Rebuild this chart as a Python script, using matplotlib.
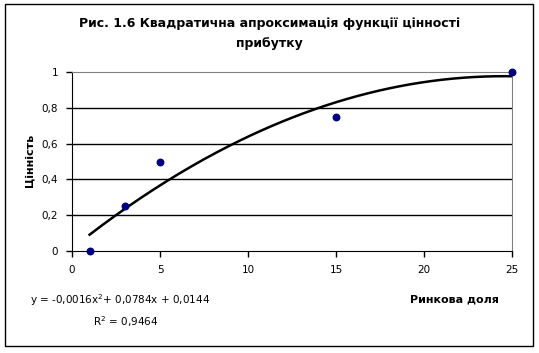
import numpy as np
import matplotlib
matplotlib.use("Agg")
import matplotlib.pyplot as plt
from matplotlib.patches import Rectangle

plt.rcParams['font.family'] = ['DejaVu Sans']

# data
share = [1, 3, 5, 15, 25]
value = [0, 0.25, 0.5, 0.75, 1]
x_ticks = [0, 5, 10, 15, 20, 25]
y_ticks = [0, 0.2, 0.4, 0.6, 0.8, 1]
y_labels = ['0', '0,2', '0,4', '0,6', '0,8', '1']

W, H = 539, 353
fig = plt.figure(figsize=(W / 100, H / 100), dpi=100)
fig.patch.set_facecolor('white')

# outer chart border
fig.patches.append(Rectangle((5 / W, 1 - 346 / H), 528 / W, 342 / H,
                             transform=fig.transFigure, fill=False,
                             edgecolor='black', linewidth=1))

ax = fig.add_axes([72 / W, 1 - 251 / H, 440 / W, 179 / H])
ax.set_xlim(0, 25)
ax.set_ylim(0, 1)

for y in y_ticks[1:-1]:
    ax.axhline(y, color='black', linewidth=1, zorder=1)

# quadratic trend line fitted to the points
coef = np.polyfit(share, value, 2)
xs = np.linspace(share[0], share[-1], 200)
ax.plot(xs, np.polyval(coef, xs), color='black', linewidth=1.8, zorder=2)

ax.scatter(share, value, s=22, color='#000080', zorder=3, clip_on=False)

ax.set_xticks(x_ticks)
ax.set_xticklabels([str(t) for t in x_ticks])
ax.set_yticks(y_ticks)
ax.set_yticklabels(y_labels)
ax.tick_params(axis='both', labelsize=7.5, length=4, width=1, direction='out', pad=6)
ax.spines['left'].set_color('black')
ax.spines['bottom'].set_color('black')
ax.spines['top'].set_color('#808080')
ax.spines['right'].set_color('#808080')

fig.text(0.5, 1 - 24 / H, 'Рис. 1.6 Квадратична апроксимація функції цінності',
         ha='center', va='center', fontsize=9, fontweight='bold')
fig.text(0.5, 1 - 44 / H, 'прибутку', ha='center', va='center',
         fontsize=9, fontweight='bold')

fig.text(30 / W, 1 - 160 / H, 'Цінність', rotation=90, ha='center', va='center',
         fontsize=8, fontweight='bold')
fig.text(454 / W, 1 - 299 / H, 'Ринкова доля', ha='center', va='center',
         fontsize=8, fontweight='bold')

fig.text(30 / W, 1 - 300 / H, 'y = -0,0016x$^2$+ 0,0784x + 0,0144',
         ha='left', va='center', fontsize=7.5)
fig.text(93 / W, 1 - 322 / H, 'R$^2$ = 0,9464', ha='left', va='center', fontsize=7.5)

fig.savefig('out.png', dpi=100)
